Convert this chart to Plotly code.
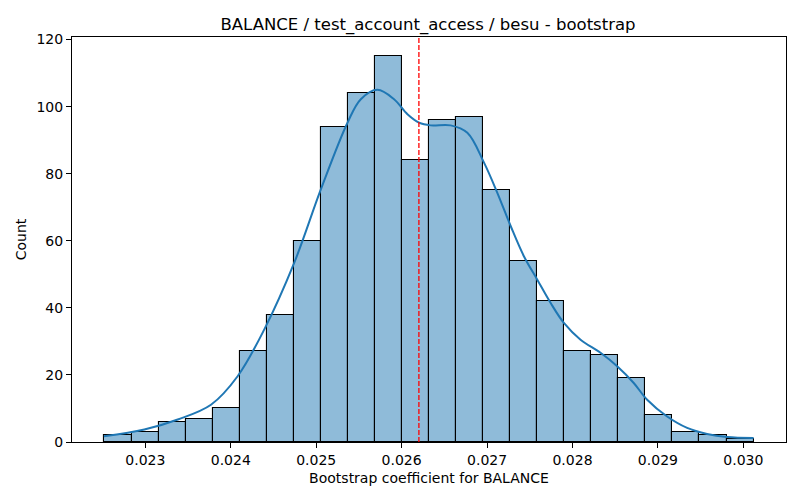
import plotly.graph_objects as go

# ---- data ----
bin_start = 0.022521
bin_width = 0.0003166
counts = [2, 3, 6, 7, 10, 27, 38, 60, 94, 104, 115, 84, 96, 97, 75, 54, 42, 27, 26, 19, 8, 3, 2, 1]

kde_x = [0.022514, 0.022988, 0.023379, 0.023768, 0.024080, 0.024391, 0.024742, 0.025054,
         0.025366, 0.025522, 0.025717, 0.025911, 0.026068, 0.026204, 0.026340, 0.026574,
         0.026769, 0.026964, 0.027120, 0.027276, 0.027431, 0.027588, 0.027743, 0.027899,
         0.028094, 0.028328, 0.028523, 0.028717, 0.028874, 0.029108, 0.029342, 0.029576,
         0.029809, 0.030120]
kde_y = [1.7, 3.7, 6.7, 11.1, 19.6, 33.5, 53.4, 75.3,
         95.2, 102.2, 105.0, 102.2, 97.7, 95.2, 94.4, 94.4,
         92.2, 83.3, 74.3, 64.4, 55.4, 48.4, 41.5, 35.5,
         30.5, 26.6, 22.6, 17.6, 12.6, 7.6, 4.2, 2.4,
         1.5, 1.2]

ref_value = 0.026202
x_ticks = [0.023, 0.024, 0.025, 0.026, 0.027, 0.028, 0.029, 0.030]
y_ticks = [0, 20, 40, 60, 80, 100, 120]

title = "BALANCE / test_account_access / besu - bootstrap"
x_label = "Bootstrap coefficient for BALANCE"
y_label = "Count"

# ---- figure ----
centers = [bin_start + bin_width * (i + 0.5) for i in range(len(counts))]

fig = go.Figure()
fig.add_trace(go.Bar(
    x=centers, y=counts, width=[bin_width] * len(counts),
    marker=dict(color="rgba(31,119,180,0.5)", line=dict(color="black", width=1.1)),
    showlegend=False, hoverinfo="x+y",
))
fig.add_trace(go.Scatter(
    x=kde_x, y=kde_y, mode="lines", line=dict(color="#1f77b4", width=2, shape="spline"),
    showlegend=False,
))

ymax = max(counts) * 1.05
lo = bin_start
hi = bin_start + bin_width * len(counts)
pad = (hi - lo) * 0.05

fig.add_shape(type="line", x0=ref_value, x1=ref_value, y0=0, y1=1, yref="paper",
              line=dict(color="red", width=1.3, dash="5px,2px"))

fig.update_layout(
    width=800, height=500,
    margin=dict(l=64, r=22, t=29, b=66, autoexpand=False),
    paper_bgcolor="white", plot_bgcolor="white",
    font=dict(family="DejaVu Sans", size=14, color="black"),
    title=dict(text=title, x=(428 - 8) / 800, xanchor="center", y=1 - 16 / 500, yanchor="middle",
               font=dict(size=16.5, family="DejaVu Sans", color="black")),
    bargap=0,
)
fig.update_xaxes(
    range=[lo - pad, hi + pad], tickvals=x_ticks, tickformat=".3f",
    ticks="outside", ticklen=5, tickwidth=1, tickcolor="black",
    showline=True, linecolor="black", linewidth=1, mirror=True,
    showgrid=False, zeroline=False, automargin=False,
    title=dict(text=x_label, font=dict(size=14), standoff=6),
    tickfont=dict(size=14),
)
fig.update_yaxes(
    range=[0, ymax], tickvals=y_ticks,
    ticks="outside", ticklen=5, tickwidth=1, tickcolor="black",
    showline=True, linecolor="black", linewidth=1, mirror=True,
    showgrid=False, zeroline=False, automargin=False,
    title=dict(text=y_label, font=dict(size=14), standoff=6),
    tickfont=dict(size=14),
)

fig.write_html("out.html")
